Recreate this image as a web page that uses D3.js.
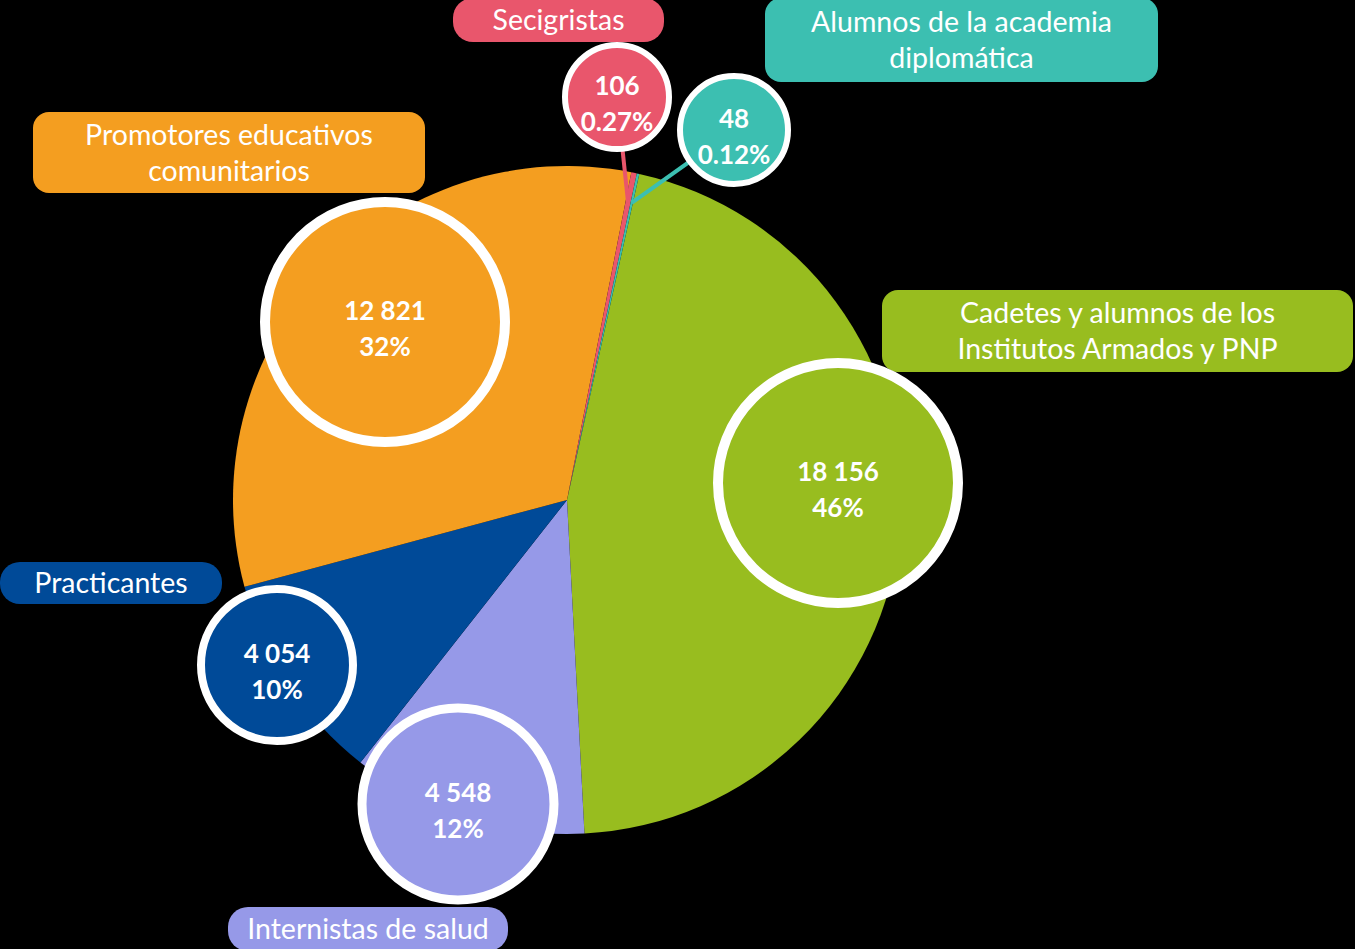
<!DOCTYPE html>
<html>
<head>
<meta charset="utf-8">
<script src="https://cdn.jsdelivr.net/npm/d3@7"></script>
<style>
body { margin: 0; background: #000; }
svg { display: block; font-family: Lato, "Open Sans", sans-serif; }
</style>
</head>
<body>
<svg id="chart" width="1355" height="949"></svg>
<script>

// DATA

const categories = [
	"Cadetes y alumnos de los\nInstitutos Armados y PNP",
	"Internistas de salud",
	"Practicantes",
	"Promotores educativos\ncomunitarios",
	"Secigristas",
	"Alumnos de la academia\ndiplomática"
]
const values = [18156, 4548, 4054, 12821, 106, 48]
const percentLabels = ["46%", "12%", "10%", "32%", "0.27%", "0.12%"]
const colors = ["#98bd1f", "#9699e8", "#004a98", "#f49e20", "#e9566c", "#3cbfb1"]

// LAYOUT (callout bubbles and name boxes, same order as categories)

const bubbles = [
	{cx: 838, cy: 483, r: 120, sw: 10},
	{cx: 458, cy: 804, r: 96, sw: 9},
	{cx: 277, cy: 665, r: 76, sw: 8},
	{cx: 385, cy: 322, r: 120, sw: 10},
	{cx: 617, cy: 97, r: 52, sw: 6},
	{cx: 734, cy: 130, r: 54, sw: 6}
]
const boxes = [
	{x: 882, y: 290, w: 471, h: 82, rx: 16},
	{x: 228, y: 907, w: 280, h: 44, rx: 20},
	{x: 0, y: 562, w: 222, h: 42, rx: 20},
	{x: 33, y: 112, w: 392, h: 81, rx: 16},
	{x: 453, y: -2, w: 211, h: 44, rx: 20},
	{x: 765, y: -2, w: 393, h: 84, rx: 16}
]

const center = [567, 500]
const radius = 334
const startDeg = 12.5

let svg = d3.select('#chart')

let fmt = d3.formatLocale({decimal: ".", thousands: " ", grouping: [3], currency: ["", ""]}).format(",d")

let pie = d3.pie()
.sort(null)
.value(d => d)
.startAngle(startDeg * Math.PI / 180)
.endAngle(startDeg * Math.PI / 180 + 2 * Math.PI)

let arcs = pie(values)

let arc = d3.arc()
.innerRadius(0)
.outerRadius(radius)

let pieGroup = svg.append('g')
.attr('transform', 'translate(' + center[0] + ',' + center[1] + ')')

pieGroup.selectAll('path')
.data(arcs)
.enter()
.append('path')
.attr('d', arc)
.style('fill', (d, i) => colors[i])

// leader lines for the thin slices
let leaders = svg.append('g')

arcs.forEach((d, i) => {
	if (d.endAngle - d.startAngle > 0.05) return
	let a = (d.startAngle + d.endAngle) / 2
	let px = center[0] + Math.sin(a) * (radius - 30)
	let py = center[1] - Math.cos(a) * (radius - 30)
	leaders.append('line')
	.attr('x1', bubbles[i].cx)
	.attr('y1', bubbles[i].cy)
	.attr('x2', px)
	.attr('y2', py)
	.style('stroke', colors[i])
	.style('stroke-width', 4)
})

// name boxes
let boxGroup = svg.append('g')

categories.forEach((name, i) => {
	let b = boxes[i]
	let g = boxGroup.append('g')

	g.append('rect')
	.attr('x', b.x)
	.attr('y', b.y)
	.attr('width', b.w)
	.attr('height', b.h)
	.attr('rx', b.rx)
	.style('fill', colors[i])

	let lines = name.split('\n')
	let cy = b.y + b.h / 2
	lines.forEach((line, j) => {
		g.append('text')
		.attr('x', b.x + b.w / 2)
		.attr('y', cy + (j - (lines.length - 1) / 2) * 36 + 10)
		.attr('text-anchor', 'middle')
		.style('fill', '#fff')
		.style('font-size', '28.5px')
		.text(line)
	})
})

// value bubbles
let bubbleGroup = svg.append('g')

values.forEach((v, i) => {
	let c = bubbles[i]
	let g = bubbleGroup.append('g')

	g.append('circle')
	.attr('cx', c.cx)
	.attr('cy', c.cy)
	.attr('r', c.r)
	.style('fill', colors[i])
	.style('stroke', '#fff')
	.style('stroke-width', c.sw)

	g.append('text')
	.attr('x', c.cx)
	.attr('y', c.cy - 11 + 9)
	.attr('text-anchor', 'middle')
	.style('fill', '#fff')
	.style('font-size', '26px')
	.style('font-weight', 'bold')
	.text(fmt(v))

	g.append('text')
	.attr('x', c.cx)
	.attr('y', c.cy + 25 + 9)
	.attr('text-anchor', 'middle')
	.style('fill', '#fff')
	.style('font-size', '26px')
	.style('font-weight', 'bold')
	.text(percentLabels[i])
})

</script>
</body>
</html>
